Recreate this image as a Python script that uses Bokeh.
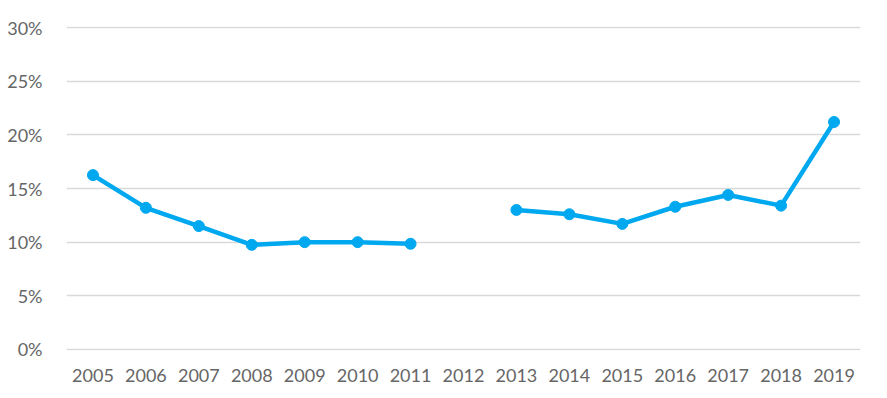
from bokeh.plotting import figure
from bokeh.models import ColumnDataSource, Range1d, FactorRange, CustomJSTickFormatter
from bokeh.embed import file_html
from bokeh.resources import INLINE
import numpy as np

years = [str(y) for y in range(2005, 2020)]
values = [16.25, 13.2, 11.5, 9.75, 10.0, 10.0, 9.85, np.nan, 13.0, 12.6, 11.7, 13.3, 14.4, 13.4, 21.2]
y_ticks = [0, 5, 10, 15, 20, 25, 30]

src = ColumnDataSource(dict(x=years, y=values))

p = figure(width=871, height=384, x_range=FactorRange(*years), y_range=Range1d(-0.1, 30.1),
           output_backend="svg", toolbar_location=None,
           min_border_left=66, min_border_right=11, min_border_top=26, min_border_bottom=34)
p.outline_line_color = None
p.background_fill_color = "white"

line_color = "#00A8EF"
p.line("x", "y", source=src, line_color=line_color, line_width=4.5)
p.scatter("x", "y", source=src, size=11, fill_color=line_color, line_color=line_color)

p.yaxis.ticker = y_ticks
p.yaxis.formatter = CustomJSTickFormatter(code="return tick + '%';")
for ax in [p.xaxis[0], p.yaxis[0]]:
    ax.axis_line_color = None
    ax.major_tick_line_color = None
    ax.minor_tick_line_color = None
    ax.major_label_text_font = "Lato"
    ax.major_label_text_font_size = "18px"
    ax.major_label_text_color = "#666666"
p.yaxis.major_label_standoff = 18
p.xaxis.major_label_standoff = 12

p.xgrid.grid_line_color = None
p.ygrid.grid_line_color = "#d9d9d9"
p.ygrid.grid_line_width = 1.5

open("out.html", "w").write(file_html(p, INLINE))
